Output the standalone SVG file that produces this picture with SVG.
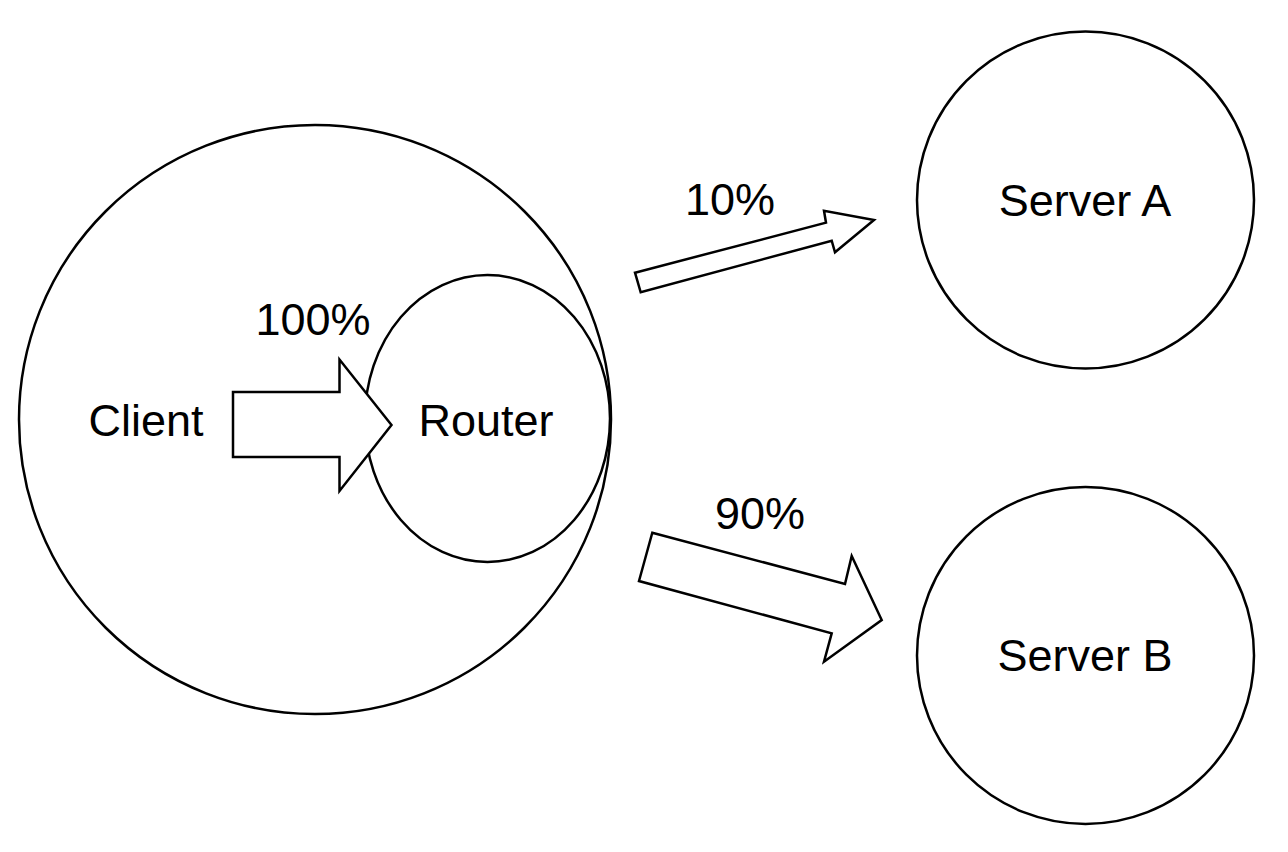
<svg xmlns="http://www.w3.org/2000/svg" width="1288" height="852" viewBox="0 0 1288 852">
  <style>
    .shape { fill: #ffffff; stroke: #000000; stroke-width: 2.5; }
    .arrow { fill: #ffffff; stroke: #000000; stroke-width: 2.5; stroke-linejoin: miter; }
    .label { font-family: "Liberation Sans", Arial, Helvetica, sans-serif; font-size: 45px; fill: #000000; text-anchor: middle; }
  </style>
  <rect width="1288" height="852" fill="#ffffff"/>
  <g id="client">
    <ellipse class="shape" cx="315" cy="419.5" rx="296" ry="294.5"/>
    <text class="label" x="146" y="436">Client</text>
  </g>
  <g id="router">
    <ellipse class="shape" cx="487.5" cy="418.5" rx="122.5" ry="143.5"/>
    <text class="label" x="486" y="436">Router</text>
  </g>
  <g id="serverA">
    <circle class="shape" cx="1085.5" cy="200" r="168.5"/>
    <text class="label" x="1085" y="216">Server A</text>
  </g>
  <g id="serverB">
    <circle class="shape" cx="1085.5" cy="655.5" r="168.5"/>
    <text class="label" x="1085" y="671">Server B</text>
  </g>
  <g id="connectors">
    <polygon class="arrow" points="233,392 339.5,392 339.5,359.5 391.5,425 339.5,491 339.5,457 233,457"/>
    <text class="label" x="313" y="335">100%</text>
    <polygon class="arrow" points="635,272.7 826,222.7 824,210.7 874,220 835,252.3 831.7,240.7 640.7,292.3"/>
    <text class="label" x="730" y="215">10%</text>
    <polygon class="arrow" points="652.3,532.7 845,584 851.7,556 881.7,620 824,661.7 831.7,633.3 639,581"/>
    <text class="label" x="760" y="529">90%</text>
  </g>
</svg>
